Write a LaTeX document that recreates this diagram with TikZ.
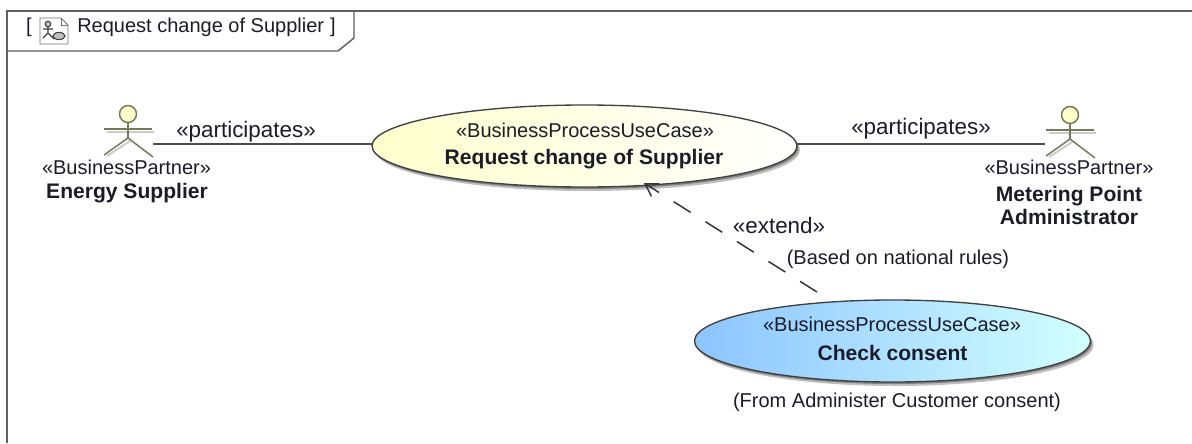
\documentclass[tikz,border=0pt]{standalone}
\usepackage{fontspec}
\setmainfont{Liberation Sans}
\usetikzlibrary{arrows.meta,shapes.geometric}
\definecolor{inkc}{HTML}{1C1C28}
\definecolor{framec}{HTML}{606060}
\definecolor{actorc}{HTML}{77775A}
\definecolor{headc}{HTML}{FFFFCC}
\definecolor{bluel}{HTML}{8CC4FF}
\definecolor{bluer}{HTML}{D2FFFF}
\tikzset{
  x=0.75pt,y=-0.75pt,
  lbl/.style={font=\fontsize{15pt}{18pt}\selectfont,text=inkc,inner sep=0pt,align=center},
  big/.style={font=\fontsize{16.8pt}{20pt}\selectfont,text=inkc,inner sep=0pt},
  nm/.style={font=\fontsize{15.8pt}{17pt}\selectfont\bfseries,text=inkc,inner sep=0pt,align=center},
  conn/.style={draw=black!70,line width=0.85pt},
  dashconn/.style={draw=black!80,line width=1.1pt,dash pattern=on 15pt off 13pt},
  framel/.style={draw=framec,line width=1.1pt},
  actorl/.style={draw=actorc,line width=1.1pt},
}
\newcommand{\actorfig}[2]{%
  \begin{scope}[shift={(#1,#2)}]
    \draw[draw=black!20,line width=1.5pt] (-21,27) -- (2,12);
    \draw[draw=black!20,line width=1.2pt] (-21,3) -- (26,3);
    \draw[actorl] (0,-7) -- (0,9) (-24,0) -- (24,0);
    \draw[actorl] (-24,26) -- (0,9) -- (25,28);
    \draw[actorl,fill=headc] (0,-15) circle (8.5);
  \end{scope}}
\begin{document}
\begin{tikzpicture}
\useasboundingbox (0,0) rectangle (1192,443);
\path[fill=white] (0,0) rectangle (1192,443);
\draw[framel] (7,443) -- (7,11) -- (1192,11);
\coordinate (tabl) at (7,51);
\coordinate (tabn) at (338,51);
\coordinate (tabe) at (354,38);
\coordinate (tabt) at (354,11);
\draw[framel] (tabl) -- (tabn) -- (tabe) -- (tabt);
\node[lbl,anchor=center] (br1) at (29,27) {[};
\node[lbl,anchor=west] (ftitle) at (77,27) {Request change of Supplier};
\node[lbl,anchor=center] (br2) at (333,27) {]};
\begin{scope}[shift={(40,18)}]
  \draw[draw=black!55,line width=0.7pt,fill=white] (0,0) -- (21,0) -- (28,7) -- (28,26) -- (0,26) -- cycle;
  \draw[draw=black!55,line width=0.5pt] (21,0) -- (21,7) -- (28,7);
  \draw[draw=black!75,line width=0.8pt,fill=black!25] (8,6) circle (2.8);
  \draw[draw=black!75,line width=0.8pt] (8,9) -- (8,15) (3,11) -- (13,11) (3,20) -- (8,15) -- (14,21);
  \draw[draw=black!75,line width=0.8pt,fill=black!25] (19,18) ellipse (6 and 3.6);
\end{scope}
\actorfig{128}{129}
\actorfig{1070}{130}
\node[lbl] (a1s) at (126.5,167) {«BusinessPartner»};
\node[nm] (a1n) at (127,193.5) {Energy Supplier};
\node[lbl] (a2s) at (1069,167) {«BusinessPartner»};
\node[nm] (a2n) at (1069,205.5) {Metering Point\\Administrator};
\coordinate (a1) at (153,144);
\coordinate (a2) at (1045,144);
\fill[black!25] (587.5,150) ellipse (212.5 and 41);
\fill[black!50] (586,148) ellipse (212.5 and 41);
\path[left color=headc,right color=white,draw=black!75,line width=1pt]
  (584.5,146) ellipse (212.5 and 41);
\coordinate (u1w) at (372,144);
\coordinate (u1e) at (797,144);
\fill[black!25] (895.5,345) ellipse (198 and 41);
\fill[black!50] (894,343) ellipse (198 and 41);
\path[left color=bluel,right color=bluer,draw=black!75,line width=1pt]
  (892.5,341) ellipse (198 and 41);
\coordinate (u2end) at (817,292);
\coordinate (u1hit) at (644,183);
\node[lbl] (u1s) at (585,130) {«BusinessProcessUseCase»};
\node[nm] (u1n) at (584,159) {Request change of Supplier};
\node[lbl] (u2s) at (892,324) {«BusinessProcessUseCase»};
\node[nm] (u2n) at (892.5,353) {Check consent};
\node[lbl] (n2) at (897,402) {(From Administer Customer consent)};
\draw[conn] (a1) -- (u1w);
\draw[conn] (u1e) -- (a2);
\draw[dashconn,-{Straight Barb[length=9pt,width=11pt]}] (u2end) -- (u1hit);
\node[big] (l1) at (246,132) {«participates»};
\node[big] (l2) at (921,129) {«participates»};
\node[big] (l3) at (779,225) {«extend»};
\node[lbl] (l4) at (898,259) {(Based on national rules)};
\end{tikzpicture}
\end{document}
